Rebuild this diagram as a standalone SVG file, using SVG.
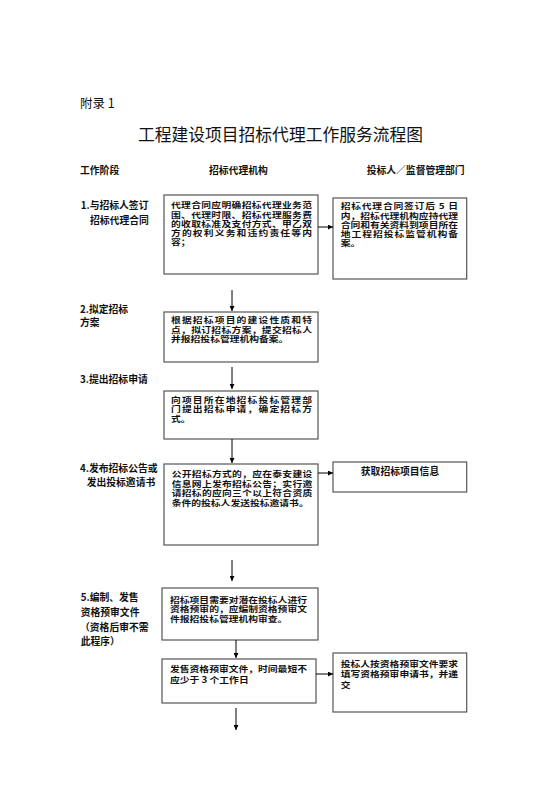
<svg xmlns="http://www.w3.org/2000/svg" width="560" height="792" viewBox="0 0 560 792">
<defs>
<marker id="ah" viewBox="0 0 10 10" refX="10" refY="5" markerWidth="5" markerHeight="5" orient="auto" markerUnits="userSpaceOnUse">
<path d="M0,0 L10,5 L0,10 z" fill="#000"/>
</marker>
<style>
text{font-family:"Noto Sans CJK SC","Noto Sans",sans-serif;fill:#111;}
.t{font-size:9.8px;font-weight:bold;}
.h{font-size:9.8px;font-weight:bold;}
.box{fill:#fff;stroke:#555;stroke-width:1.2;}
.c{stroke:#000;stroke-width:1;fill:none;marker-end:url(#ah);}
</style>
</defs>
<rect width="560" height="792" fill="#fff"/>
<text x="80" y="108" style="font-size:12.5px">附录 1</text>
<text x="138" y="141" style="font-size:17px" textLength="285" lengthAdjust="spacingAndGlyphs">工程建设项目招标代理工作服务流程图</text>
<g id="headers">
<text class="h" x="80" y="174">工作阶段</text>
<text class="h" x="209" y="173.5">招标代理机构</text>
<text class="h" x="366.7" y="173.5">投标人／监督管理部门</text>
</g>
<g id="labels">
<text class="t" x="80.7" y="208.5">1.与招标人签订</text>
<text class="t" x="90" y="224.2">招标代理合同</text>
<text class="t" x="80" y="312.5">2.拟定招标</text>
<text class="t" x="80" y="325.8">方案</text>
<text class="t" x="80" y="382.5">3.提出招标申请</text>
<text class="t" x="80" y="471.8">4.发布招标公告或</text>
<text class="t" x="86.7" y="486.2">发出投标邀请书</text>
<text class="t" x="80.7" y="600.8">5.编制、发售</text>
<text class="t" x="80.7" y="616.2">资格预审文件</text>
<text class="t" x="80" y="630.8">（资格后审不需</text>
<text class="t" x="80.7" y="645.2">此程序）</text>
</g>
<g id="n1">
<rect class="box" x="164" y="195" width="154" height="79"/>
<text class="t" transform="translate(171,208.4) scale(1,0.8)" textLength="141">代理合同应明确招标代理业务范</text>
<text class="t" transform="translate(171,217.7) scale(1,0.8)" textLength="141">围、代理时限、招标代理服务费</text>
<text class="t" transform="translate(171,227.1) scale(1,0.8)" textLength="141">的收取标准及支付方式、甲乙双</text>
<text class="t" transform="translate(171,236.2) scale(1,0.8)" textLength="141">方的权利义务和违约责任等内</text>
<text class="t" transform="translate(171,245.4) scale(1,0.8)">容；</text>
</g>
<g id="n1r">
<rect class="box" x="333" y="198" width="133.7" height="81"/>
<text class="t" transform="translate(340.7,209.4) scale(1,0.8)" textLength="117.3">招标代理合同签订后 5 日</text>
<text class="t" transform="translate(340.7,218.5) scale(1,0.8)" textLength="117.3">内，招标代理机构应持代理</text>
<text class="t" transform="translate(340.7,227.7) scale(1,0.8)" textLength="117.3">合同和有关资料到项目所在</text>
<text class="t" transform="translate(340.7,236.7) scale(1,0.8)" textLength="117.3">地工程招投标监管机构备</text>
<text class="t" transform="translate(340.7,245.7) scale(1,0.8)">案。</text>
</g>
<g id="n2">
<rect class="box" x="164" y="312" width="154" height="50"/>
<text class="t" transform="translate(171,323.4) scale(1,0.8)" textLength="141">根据招标项目的建设性质和特</text>
<text class="t" transform="translate(171,332.7) scale(1,0.8)" textLength="141">点，拟订招标方案，提交招标人</text>
<text class="t" transform="translate(171,341.7) scale(1,0.8)">并报招投标管理机构备案。</text>
</g>
<g id="n3">
<rect class="box" x="164" y="391" width="154" height="48"/>
<text class="t" transform="translate(171,402.7) scale(1,0.8)" textLength="141">向项目所在地招标投标管理部</text>
<text class="t" transform="translate(171,412.4) scale(1,0.8)" textLength="141">门提出招标申请，确定招标方</text>
<text class="t" transform="translate(171,421.7) scale(1,0.8)">式。</text>
</g>
<g id="n4">
<rect class="box" x="164" y="464" width="154" height="81"/>
<text class="t" transform="translate(171.7,476.7) scale(1,0.8)" textLength="140.6">公开招标方式的，应在泰安建设</text>
<text class="t" transform="translate(171.7,486.7) scale(1,0.8)" textLength="140.6">信息网上发布招标公告；实行邀</text>
<text class="t" transform="translate(171.7,496.1) scale(1,0.8)" textLength="140.6">请招标的应向三个以上符合资质</text>
<text class="t" transform="translate(171.7,505.7) scale(1,0.8)">条件的投标人发送投标邀请书。</text>
</g>
<g id="n4r">
<rect class="box" x="333" y="462" width="133.7" height="30"/>
<text class="t" x="400" y="475.2" text-anchor="middle">获取招标项目信息</text>
</g>
<g id="n5">
<rect class="box" x="162" y="588" width="156" height="52"/>
<text class="t" transform="translate(170,602.7) scale(1,0.8)">招标项目需要对潜在投标人进行</text>
<text class="t" transform="translate(170,612.4) scale(1,0.8)">资格预审的，应编制资格预审文</text>
<text class="t" transform="translate(170,621.7) scale(1,0.8)">件报招投标管理机构审查。</text>
</g>
<g id="n6">
<rect class="box" x="162" y="659" width="154" height="44"/>
<text class="t" transform="translate(170,671.7) scale(1,0.85)">发售资格预审文件，时间最短不</text>
<text class="t" transform="translate(170,683.4) scale(1,0.85)">应少于 3 个工作日</text>
</g>
<g id="n6r">
<rect class="box" x="333" y="653" width="133.7" height="59"/>
<text class="t" transform="translate(340.7,666.7) scale(1,0.85)">投标人按资格预审文件要求</text>
<text class="t" transform="translate(340.7,677.4) scale(1,0.85)">填写资格预审申请书，并递</text>
<text class="t" transform="translate(340.7,687.7) scale(1,0.85)">交</text>
</g>
<g id="connectors">
<line class="c" x1="318" y1="227" x2="333" y2="227"/>
<line class="c" x1="232" y1="290" x2="232" y2="311"/>
<line class="c" x1="232" y1="367" x2="232" y2="389"/>
<line class="c" x1="232" y1="439" x2="232" y2="463"/>
<line class="c" x1="318" y1="473" x2="333" y2="473"/>
<line class="c" x1="232" y1="560" x2="232" y2="581"/>
<line class="c" x1="236" y1="640" x2="236" y2="658"/>
<line class="c" x1="316" y1="674" x2="333" y2="674"/>
<line class="c" x1="236" y1="708" x2="236" y2="730"/>
</g>
</svg>
